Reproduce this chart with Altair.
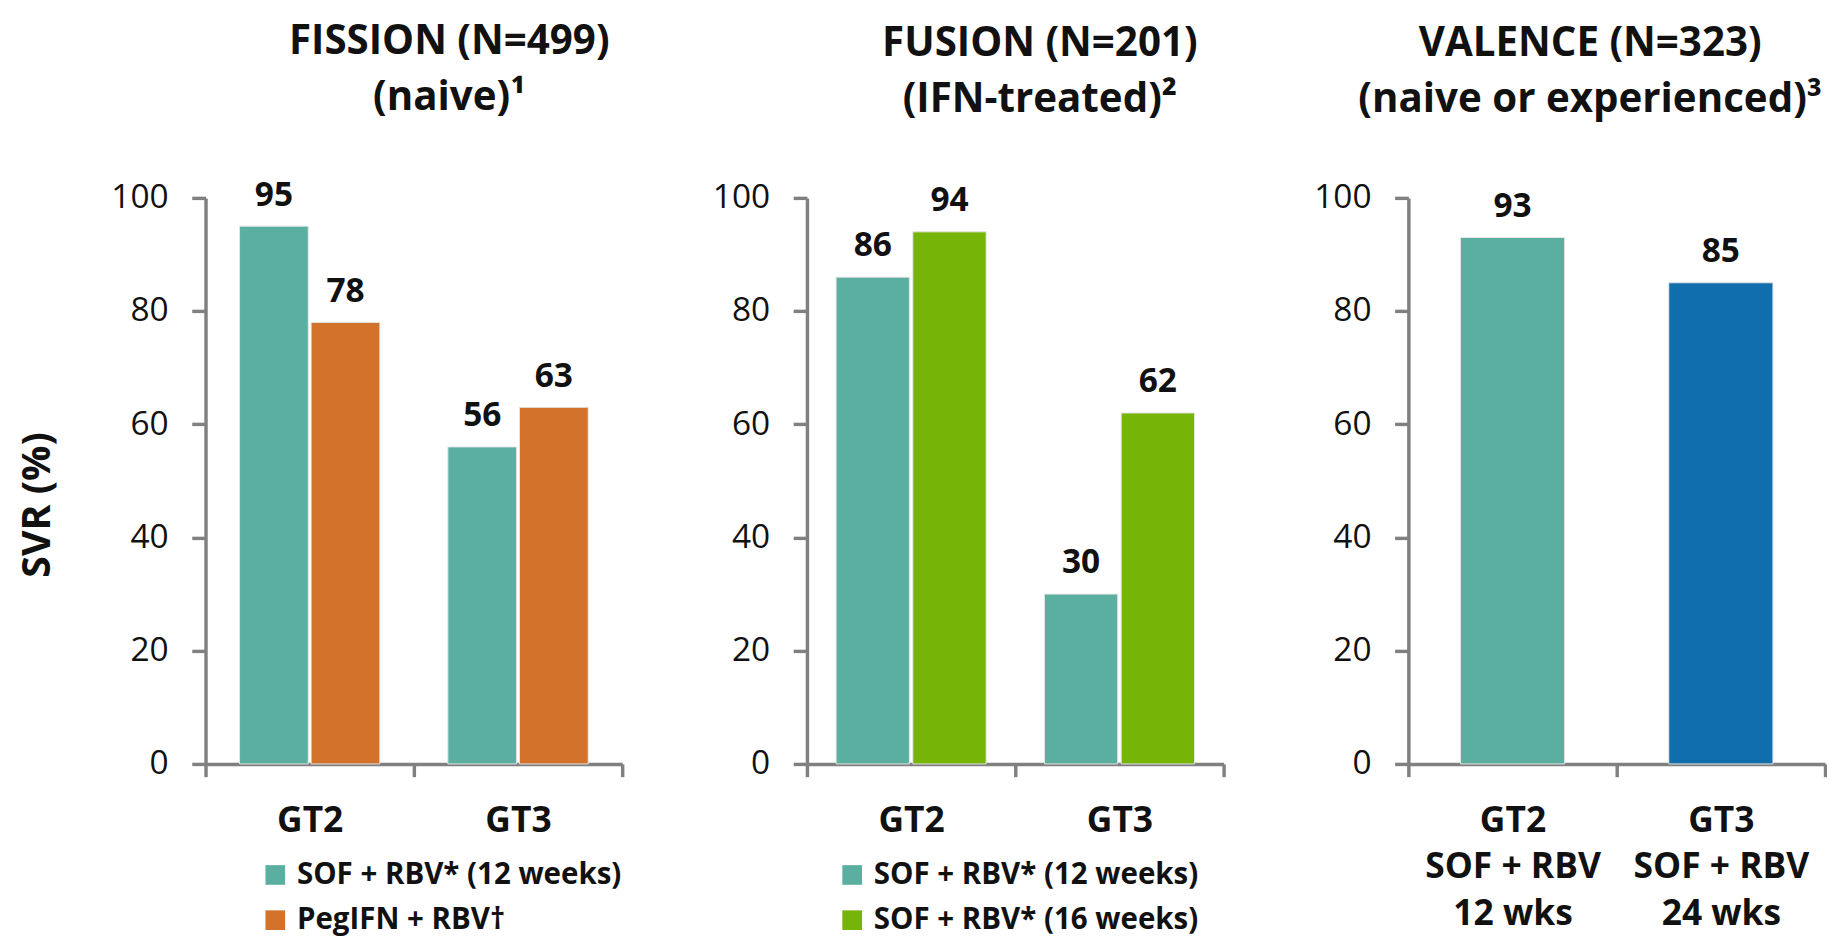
import json
import altair as alt
import pandas as pd

# ---------------- data ----------------
genotypes = ["GT2", "GT3"]

fission_series = ["SOF + RBV* (12 weeks)", "PegIFN + RBV†"]
fission_sof = [95, 56]
fission_peg = [78, 63]

fusion_series = ["SOF + RBV* (12 weeks)", "SOF + RBV* (16 weeks)"]
fusion_12 = [86, 30]
fusion_16 = [94, 62]

valence_series = ["SOF + RBV 12 wks", "SOF + RBV 24 wks"]
valence_svr = [93, 85]
valence_xlabels = {"GT2": ["GT2", "SOF + RBV", "12 wks"],
                   "GT3": ["GT3", "SOF + RBV", "24 wks"]}

titles = [["FISSION (N=499)", "(naive)¹"],
          ["FUSION (N=201)", "(IFN-treated)²"],
          ["VALENCE (N=323)", "(naive or experienced)³"]]

y_ticks = [0, 20, 40, 60, 80, 100]

TEAL = "#5BAFA0"
ORANGE = "#D3722A"
GREEN = "#76B407"
BLUE = "#106EAC"
GRAY = "#808080"
INK = "#111111"
FONT = "Open Sans"
W, H = 424, 576


def frame(gts, series_list, values_list):
    rows = []
    for s, vals in zip(series_list, values_list):
        for g, v in zip(gts, vals):
            rows.append({"gt": g, "series": s, "svr": v})
    return pd.DataFrame(rows)


df1 = frame(genotypes, fission_series, [fission_sof, fission_peg])
df2 = frame(genotypes, fusion_series, [fusion_12, fusion_16])
df3 = pd.DataFrame({"gt": genotypes, "series": valence_series, "svr": valence_svr})


def y_enc(with_title):
    ax = dict(values=y_ticks, grid=False, domainColor=GRAY, domainWidth=3.5,
              tickColor=GRAY, tickWidth=3.5, tickSize=14, labelFont=FONT,
              labelFontSize=34, labelColor=INK, labelPadding=24)
    if with_title:
        ax.update(titleFont=FONT, titleFontSize=40, titleFontWeight="bold",
                  titleColor=INK, titlePadding=54, titleY=312)
    return alt.Y("svr:Q", scale=alt.Scale(domain=[0, 100], nice=False),
                 axis=alt.Axis(**ax), title="SVR (%)" if with_title else None)


def x_enc(label_expr=None):
    ax = dict(tickBand="extent", labelAngle=0, grid=False, domainColor=GRAY,
              domainWidth=3.5, tickColor=GRAY, tickWidth=3.5, tickSize=13,
              labelFont=FONT, labelFontSize=36, labelFontWeight="bold",
              labelColor=INK, labelPadding=28, labelLineHeight=47)
    if label_expr:
        ax["labelExpr"] = label_expr
    return alt.X("gt:N", sort=genotypes, title=None,
                 scale=alt.Scale(type="band", paddingInner=0, paddingOuter=0),
                 axis=alt.Axis(**ax))


def title(lines, dx):
    return alt.TitleParams(text=lines, font=FONT, fontSize=41, fontWeight="bold",
                           color=INK, lineHeight=57, anchor="middle",
                           frame="group", dx=dx, offset=29, baseline="alphabetic")


def legend(lx):
    return alt.Legend(orient="none", legendX=lx, legendY=674, title=None,
                      direction="vertical", symbolType="square", symbolSize=400,
                      symbolStrokeWidth=0, symbolOpacity=1, labelFont=FONT,
                      labelFontSize=30, labelFontWeight="bold", labelColor=INK,
                      labelOffset=7, rowPadding=16, padding=0, labelLimit=0)


BAR_STYLE = dict(stroke="#e4e4e4", strokeWidth=1)


def grouped_panel(df, series, colors, pin, pout, lx, ttl, dx, with_title):
    xo = alt.XOffset("series:N", sort=series,
                     scale=alt.Scale(type="band", paddingInner=pin, paddingOuter=pout))
    x = x_enc()
    bars = alt.Chart(df).mark_bar(**BAR_STYLE).encode(
        x=x, xOffset=xo, y=y_enc(with_title),
        color=alt.Color("series:N", scale=alt.Scale(domain=series, range=colors),
                        legend=legend(lx)))
    text = alt.Chart(df).mark_text(dy=-21, baseline="alphabetic", font=FONT,
                                   fontSize=34, fontWeight="bold", color=INK).encode(
        x=x, xOffset=xo, y=y_enc(with_title), text="svr:Q")
    return alt.layer(bars, text).properties(width=W, height=H, title=title(ttl, dx))


p1 = grouped_panel(df1, fission_series, [TEAL, ORANGE], 0.04, 0.475, 56,
                   titles[0], 36, True)
p2 = grouped_panel(df2, fusion_series, [TEAL, GREEN], 0.045, 0.38, 31,
                   titles[1], 25, False)

expr3 = "datum.value == 'GT2' ? %s : datum.value == 'GT3' ? %s : ''" % (
    json.dumps(valence_xlabels["GT2"]), json.dumps(valence_xlabels["GT3"]))
x3 = x_enc(expr3)
bars3 = alt.Chart(df3).mark_bar(width=alt.RelativeBandSize(0.5), **BAR_STYLE).encode(
    x=x3, y=y_enc(False),
    color=alt.Color("series:N", scale=alt.Scale(domain=valence_series, range=[TEAL, BLUE]),
                    legend=None))
text3 = alt.Chart(df3).mark_text(dy=-21, baseline="alphabetic", font=FONT, fontSize=34,
                                 fontWeight="bold", color=INK).encode(
    x=x3, y=y_enc(False), text="svr:Q")
p3 = alt.layer(bars3, text3).properties(width=W, height=H, title=title(titles[2], -27))

chart = alt.hconcat(p1, p2, p3, spacing=188, bounds="flush").resolve_scale(
    color="independent", xOffset="independent").configure_view(stroke=None).properties(
    padding={"left": 10, "top": 5, "right": 0, "bottom": 0})

chart.save("out.html", embed_options={"renderer": "svg", "actions": False})
